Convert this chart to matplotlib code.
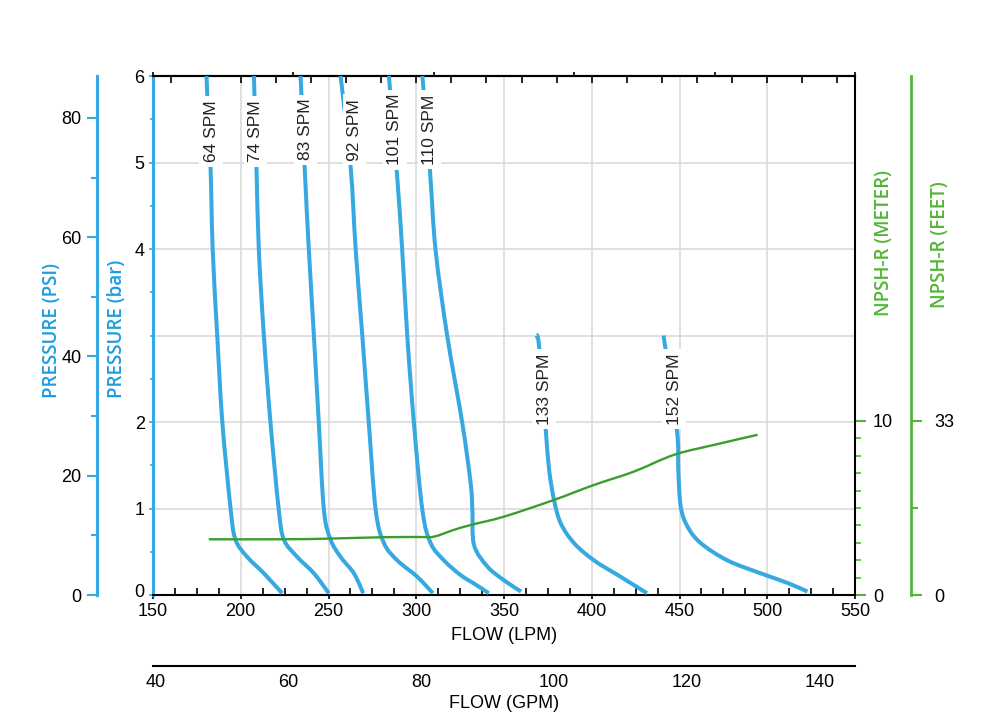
import matplotlib
matplotlib.use('Agg')
import numpy as np
import matplotlib.pyplot as plt
from matplotlib.path import Path
from matplotlib.patches import PathPatch
from matplotlib.transforms import ScaledTranslation
from matplotlib.ticker import FixedLocator, MultipleLocator, NullFormatter

# ---------------- data ----------------
spm_names = ['64 SPM', '74 SPM', '83 SPM', '92 SPM', '101 SPM', '110 SPM', '133 SPM', '152 SPM']

flow_64 = [180.5, 181.5, 182.8, 184.0, 186.6, 189.5, 194.2, 197.0, 203.7, 213.2, 223.6]
bar_64 = [6.0, 5.5, 4.94, 4.0, 3.0, 2.0, 1.0, 0.64, 0.44, 0.25, 0.02]
flow_74 = [207.5, 209.0, 210.3, 213.2, 217.0, 221.7, 224.6, 232.2, 241.7, 250.2]
bar_74 = [6.0, 4.91, 3.99, 2.99, 1.98, 0.98, 0.64, 0.44, 0.25, 0.02]
flow_83 = [234.1, 236.4, 238.8, 241.7, 244.5, 247.4, 251.2, 256.9, 264.5, 269.8]
bar_83 = [6.0, 4.95, 3.99, 2.99, 1.98, 0.98, 0.64, 0.44, 0.25, 0.02]
flow_92 = [256.9, 262.6, 265.5, 269.3, 273.0, 276.9, 281.6, 289.2, 300.6, 309.5]
bar_92 = [6.0, 4.95, 3.99, 2.99, 1.98, 0.98, 0.60, 0.40, 0.21, 0.02]
flow_101 = [284.4, 288.8, 292.0, 294.9, 298.7, 303.5, 308.2, 315.8, 325.3, 333.9, 341.3]
bar_101 = [6.0, 4.93, 3.99, 2.99, 1.98, 0.98, 0.60, 0.40, 0.23, 0.12, 0.02]
flow_110 = [303.5, 307.8, 311.0, 317.7, 326.3, 331.0, 332.0, 332.9, 340.5, 350.0, 359.7]
bar_110 = [6.0, 4.91, 3.99, 2.99, 1.98, 1.29, 0.98, 0.58, 0.33, 0.17, 0.04]
flow_133 = [368.7, 370.0, 373.8, 375.7, 378.5, 382.3, 389.9, 401.3, 416.5, 431.5]
bar_133 = [3.0, 2.87, 1.91, 1.45, 1.10, 0.83, 0.60, 0.40, 0.21, 0.02]
flow_152 = [440.9, 448.5, 449.3, 450.7, 454.6, 462.1, 477.3, 496.3, 511.5, 522.9]
bar_152 = [3.0, 1.91, 1.45, 1.02, 0.79, 0.60, 0.40, 0.25, 0.14, 0.04]

label_flow = [183.1, 208.4, 236.9, 264.9, 287.7, 307.6, 372.8, 446.9]
label_bar = [5.36, 5.36, 5.38, 5.38, 5.38, 5.38, 2.38, 2.38]

npsh_flow = [181.8, 224.6, 251.2, 281.6, 302.5, 310.1, 321.5, 331.0, 350.0,
             378.5, 401.3, 424.1, 446.9, 469.7, 494.5]
npsh_m = [3.2, 3.2, 3.24, 3.32, 3.33, 3.35, 3.74, 4.02, 4.5,
          5.46, 6.32, 7.09, 8.05, 8.62, 9.2]

lpm_ticks = [150, 200, 250, 300, 350, 400, 450, 500, 550]
gpm_ticks = [40, 60, 80, 100, 120, 140]
bar_ticks = [0, 1, 2, 4, 5, 6]
psi_ticks = [0, 20, 40, 60, 80]
meter_ticks = [0, 10]
feet_ticks = [0, 33]

# ---------------- style ----------------
BLUE = '#36a9e1'
BLUE_TXT = '#1c9ce0'
GREEN = '#3a9e2e'
GREEN_TXT = '#52b535'
GRID = '#dadada'
TICKFONT = 'Liberation Sans'
LABELFONT = 'Open Sans'
TS = 13

plt.rcParams['font.family'] = [TICKFONT, 'DejaVu Sans']


def smooth_path(xs, ys):
    """Bezier path passing through every data point (Catmull-Rom tangents)."""
    P = np.column_stack([xs, ys]).astype(float)
    n = len(P)
    verts = [P[0]]
    codes = [Path.MOVETO]
    for i in range(n - 1):
        p0 = P[i - 1] if i > 0 else P[i]
        p3 = P[i + 2] if i + 2 < n else P[i + 1]
        c1 = P[i] + (P[i + 1] - p0) / 6.0
        c2 = P[i + 1] - (p3 - P[i]) / 6.0
        verts += [c1, c2, P[i + 1]]
        codes += [Path.CURVE4] * 3
    return Path(verts, codes)


fig = plt.figure(figsize=(10, 7.22), dpi=100)
ax = fig.add_axes([0.153, 0.1759, 0.702, 0.7188])
ax.set_xlim(150, 550)
ax.set_ylim(0, 6)

# grid
for x in lpm_ticks[1:-1]:
    ax.axvline(x, color=GRID, lw=1.2, zorder=0)
for y in [1, 2, 3, 4, 5]:
    ax.axhline(y, color=GRID, lw=1.2, zorder=0)

# spines
for s in ['top', 'bottom', 'right']:
    ax.spines[s].set_color('black')
    ax.spines[s].set_linewidth(1.5)
ax.spines['left'].set_color(BLUE)
ax.spines['left'].set_linewidth(2.2)
ax.spines['right'].set_visible(False)

# x axis bottom
ax.xaxis.set_major_locator(FixedLocator(lpm_ticks))
ax.xaxis.set_minor_locator(MultipleLocator(12.5))
ax.tick_params(axis='x', which='major', direction='out', length=3, width=1.2,
               labelsize=TS, pad=3, top=False)
ax.tick_params(axis='x', which='minor', direction='in', length=5, width=1.2, top=False)
# y axis bar
ax.yaxis.set_major_locator(FixedLocator(bar_ticks))
ax.yaxis.set_minor_locator(MultipleLocator(0.5))
ax.tick_params(axis='y', which='major', direction='out', length=3, width=1.2,
               color=BLUE, labelsize=TS, pad=3)
ax.tick_params(axis='y', which='minor', direction='out', length=2, width=1.2, color=BLUE)

# top axis ticks
top = ax.secondary_xaxis('top')
top.xaxis.set_major_locator(FixedLocator([150, 230, 310, 390, 470, 550]))
top.xaxis.set_minor_locator(MultipleLocator(20))
top.xaxis.set_major_formatter(NullFormatter())
top.tick_params(which='major', direction='out', length=3, width=1.2)
top.tick_params(which='minor', direction='in', length=5, width=1.2)
top.spines['top'].set_linewidth(1.5)

# pump curves
curves = [(flow_64, bar_64), (flow_74, bar_74), (flow_83, bar_83), (flow_92, bar_92),
          (flow_101, bar_101), (flow_110, bar_110), (flow_133, bar_133), (flow_152, bar_152)]
for (fx, by) in curves:
    ax.add_patch(PathPatch(smooth_path(fx, by), fc='none', ec=BLUE, lw=2.9,
                           capstyle='butt', zorder=3, clip_on=False))
for name, lx, ly in zip(spm_names, label_flow, label_bar):
    ax.text(lx, ly, name, rotation=90, ha='center', va='center', fontsize=12.5,
            color='#222222', zorder=5,
            bbox=dict(boxstyle='square,pad=0.25', fc='white', ec='none'))

# PSI axis (left outer)
ax_psi = ax.twinx()
ax_psi.set_ylim(0, 6 * 14.5038)
for s in ['right', 'top', 'bottom']:
    ax_psi.spines[s].set_visible(False)
ax_psi.spines['left'].set_visible(True)
ax_psi.spines['left'].set_position(('axes', -0.0798))
ax_psi.spines['left'].set_color(BLUE)
ax_psi.spines['left'].set_linewidth(2.2)
ax_psi.yaxis.tick_left()
ax_psi.yaxis.set_major_locator(FixedLocator(psi_ticks))
ax_psi.yaxis.set_minor_locator(MultipleLocator(10))
ax_psi.tick_params(axis='y', which='major', direction='out', length=7, width=1.5,
                   color=BLUE, labelsize=TS, pad=4)
ax_psi.tick_params(axis='y', which='minor', direction='out', length=4, width=1.5, color=BLUE)

# NPSH meter axis (right inner)
ax_m = ax.twinx()
ax_m.set_ylim(0, 29.8)
for s in ['left', 'top', 'bottom']:
    ax_m.spines[s].set_visible(False)
ax_m.spines['right'].set_color('black')
ax_m.spines['right'].set_linewidth(1.5)
ax_m.yaxis.set_major_locator(FixedLocator(meter_ticks))
ax_m.yaxis.set_minor_locator(FixedLocator(list(range(0, 11))))
ax_m.tick_params(axis='y', which='major', direction='out', length=8, width=1.5,
                 color=GREEN_TXT, labelsize=TS, pad=5)
ax_m.tick_params(axis='y', which='minor', direction='out', length=4, width=1.2, color=GREEN_TXT)
ax_m.add_patch(PathPatch(smooth_path(npsh_flow, npsh_m), fc='none', ec=GREEN, lw=1.7, zorder=4))

# NPSH feet axis (right outer)
ax_f = ax.twinx()
ax_f.set_ylim(0, 29.8 * 3.3)
for s in ['left', 'top', 'bottom']:
    ax_f.spines[s].set_visible(False)
ax_f.spines['right'].set_position(('axes', 1.0798))
ax_f.spines['right'].set_color(GREEN_TXT)
ax_f.spines['right'].set_linewidth(2.0)
ax_f.yaxis.set_major_locator(FixedLocator(feet_ticks))
ax_f.yaxis.set_minor_locator(FixedLocator([16.5]))
ax_f.tick_params(axis='y', which='major', direction='out', length=8, width=1.5,
                 color=GREEN_TXT, labelsize=TS, pad=9)
ax_f.tick_params(axis='y', which='minor', direction='out', length=5, width=1.5, color=GREEN_TXT)

# GPM axis (below)
ax_g = fig.add_axes([0.153, 1 - 666 / 722, 0.702, 0.0001])
ax_g.patch.set_visible(False)
for s in ['left', 'right', 'top']:
    ax_g.spines[s].set_visible(False)
ax_g.spines['bottom'].set_linewidth(1.5)
ax_g.set_xlim(150 / 3.78541, 550 / 3.78541)
ax_g.set_yticks([])
ax_g.xaxis.set_major_locator(FixedLocator(gpm_ticks))
ax_g.tick_params(axis='x', length=0, labelsize=TS, pad=6)

# axis titles
fig.text(0.504, 1 - 636 / 722, 'FLOW (LPM)', ha='center', va='center', fontsize=TS)
fig.text(0.504, 1 - 704 / 722, 'FLOW (GPM)', ha='center', va='center', fontsize=TS)
fig.text(0.052, 1 - 331 / 722, 'PRESSURE (PSI)', rotation=90, ha='center', va='center',
         fontsize=13.5, color=BLUE_TXT, family=LABELFONT, weight='semibold')
fig.text(0.117, 1 - 329 / 722, 'PRESSURE (bar)', rotation=90, ha='center', va='center',
         fontsize=13.5, color=BLUE_TXT, family=LABELFONT, weight='semibold')
fig.text(0.884, 1 - 243 / 722, 'NPSH-R (METER)', rotation=90, ha='center', va='center',
         fontsize=13.5, color=GREEN_TXT, family=LABELFONT, weight='semibold')
fig.text(0.940, 1 - 245 / 722, 'NPSH-R (FEET)', rotation=90, ha='center', va='center',
         fontsize=13.5, color=GREEN_TXT, family=LABELFONT, weight='semibold')

# lift the bar-axis "0" label a few pixels so it clears the "150" label (as in the reference)
fig.canvas.draw()
for lbl in ax.yaxis.get_majorticklabels():
    if lbl.get_text() == '0':
        lbl.set_transform(lbl.get_transform() + ScaledTranslation(0, 3.5 / 72, fig.dpi_scale_trans))

fig.savefig('out.png', dpi=100)
